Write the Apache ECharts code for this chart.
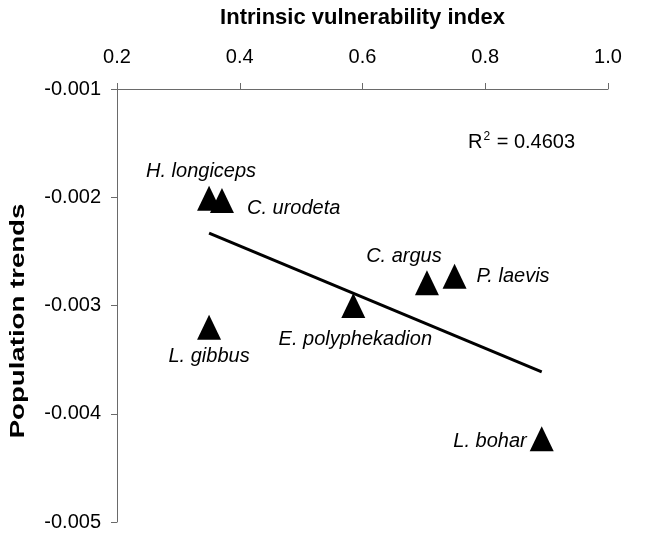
<!DOCTYPE html>
<html>
<head>
<meta charset="utf-8">
<title>Population trends vs intrinsic vulnerability</title>
<script src="https://cdn.jsdelivr.net/npm/echarts@6/dist/echarts.min.js"></script>
<style>
  html, body { margin: 0; padding: 0; background: #fff; }
  #chart { width: 660px; height: 536px; }
</style>
</head>
<body>
<div id="chart"></div>
<script>
// Species and their measured values
const species = ['H. longiceps', 'C. urodeta', 'L. gibbus', 'E. polyphekadion', 'C. argus', 'P. laevis', 'L. bohar'];
const vulnerability = [0.350, 0.371, 0.350, 0.585, 0.705, 0.750, 0.892];
const popTrend = [-0.00201, -0.00203, -0.00320, -0.00300, -0.00279, -0.00273, -0.00423];
const xTicks = [0.2, 0.4, 0.6, 0.8, 1.0];
const yTicks = [-0.005, -0.004, -0.003, -0.002, -0.001];
const rSquaredText = '0.4603';

const FONT = '"Liberation Sans", Arial, Helvetica, sans-serif';

// Label placement around each triangle: [align, dx, dy]
const labelPlacement = {
  'H. longiceps': ['center', -8, -27],
  'C. urodeta': ['left', 25, 8],
  'L. gibbus': ['center', 0, 29],
  'E. polyphekadion': ['center', 2, 34],
  'C. argus': ['center', -23, -26],
  'P. laevis': ['left', 22, 0],
  'L. bohar': ['right', -15, 3]
};

// Ordinary least-squares trend line across the data range
function linearFit(xs, ys) {
  const n = xs.length;
  const mx = xs.reduce((a, b) => a + b, 0) / n;
  const my = ys.reduce((a, b) => a + b, 0) / n;
  let sxy = 0, sxx = 0;
  for (let i = 0; i < n; i++) {
    sxy += (xs[i] - mx) * (ys[i] - my);
    sxx += (xs[i] - mx) * (xs[i] - mx);
  }
  const slope = sxy / sxx;
  return { slope, intercept: my - slope * mx };
}
const fit = linearFit(vulnerability, popTrend);
const xMin = Math.min(...vulnerability);
const xMax = Math.max(...vulnerability);
const trendData = [
  [xMin, fit.intercept + fit.slope * xMin],
  [xMax, fit.intercept + fit.slope * xMax]
];

const points = species.map((name, i) => {
  const p = labelPlacement[name];
  return {
    name,
    value: [vulnerability[i], popTrend[i]],
    label: {
      show: true,
      formatter: name,
      position: 'inside',
      align: p[0],
      verticalAlign: 'middle',
      offset: [p[1], p[2]],
      color: '#000',
      fontFamily: FONT,
      fontStyle: 'italic',
      fontSize: 20
    }
  };
});

const chart = echarts.init(document.getElementById('chart'), null, { renderer: 'canvas' });

chart.setOption({
  animation: false,
  backgroundColor: '#fff',
  grid: {
    left: 117, right: 52, top: 89, bottom: 14,
    containLabel: false,
    outerBoundsMode: 'none'
  },
  xAxis: {
    type: 'value',
    position: 'top',
    min: xTicks[0],
    max: xTicks[xTicks.length - 1],
    interval: 0.2,
    name: 'Intrinsic vulnerability index',
    nameLocation: 'middle',
    nameGap: 60,
    nameTextStyle: { fontFamily: FONT, fontWeight: 'bold', fontSize: 22, color: '#000' },
    axisLine: { show: true, onZero: false, lineStyle: { color: '#6a6a6a', width: 1 } },
    axisTick: { show: true, inside: false, length: 6, lineStyle: { color: '#6a6a6a' } },
    axisLabel: {
      margin: 22,
      fontFamily: FONT, fontSize: 20, color: '#000',
      formatter: v => v.toFixed(1)
    },
    splitLine: { show: false }
  },
  yAxis: {
    type: 'value',
    min: yTicks[0],
    max: yTicks[yTicks.length - 1],
    interval: 0.001,
    axisLine: { show: true, onZero: false, lineStyle: { color: '#6a6a6a', width: 1 } },
    axisTick: { show: true, inside: false, length: 6, lineStyle: { color: '#6a6a6a' } },
    axisLabel: {
      margin: 16,
      fontFamily: FONT, fontSize: 20, color: '#000',
      formatter: v => v.toFixed(3)
    },
    splitLine: { show: false }
  },
  graphic: [
    {
      // vertical axis title, widened along its length
      type: 'text',
      x: 18,
      y: 321,
      rotation: Math.PI / 2,
      scaleX: 1.38,
      style: {
        text: 'Population trends',
        fontFamily: FONT,
        fontWeight: 'bold',
        fontSize: 20,
        fill: '#000',
        align: 'center',
        verticalAlign: 'middle'
      }
    },
    {
      type: 'text',
      left: 468,
      top: 131,
      style: {
        text: 'R{sup|2} = ' + rSquaredText,
        fontFamily: FONT,
        fontSize: 20,
        fill: '#000',
        rich: {
          sup: { fontSize: 12, verticalAlign: 'top', padding: [0, 1, 10, 1], fontFamily: FONT }
        }
      }
    }
  ],
  series: [
    {
      type: 'scatter',
      name: 'Species',
      symbol: 'triangle',
      symbolSize: [24, 25],
      itemStyle: { color: '#000', opacity: 1 },
      emphasis: { disabled: true },
      data: points,
      z: 2
    },
    {
      type: 'line',
      name: 'Trend',
      data: trendData,
      symbol: 'none',
      lineStyle: { color: '#000', width: 3 },
      silent: true,
      z: 3
    }
  ]
});
</script>
</body>
</html>
